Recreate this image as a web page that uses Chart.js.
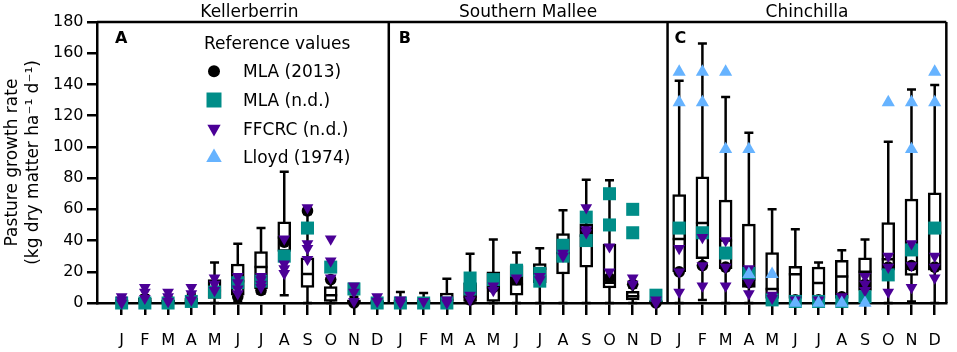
<!DOCTYPE html>
<html>
<head>
<meta charset="utf-8">
<script src="https://cdn.jsdelivr.net/npm/chart.js@4.4.1/dist/chart.umd.min.js"></script>
<style>
  html, body { margin: 0; padding: 0; background: #fff; }
  #growth { display: block; }
</style>
</head>
<body>
<canvas id="growth" width="957" height="352"></canvas>
<script>
const months = ['J', 'F', 'M', 'A', 'M', 'J', 'J', 'A', 'S', 'O', 'N', 'D'];
const sites = ['Kellerberrin', 'Southern Mallee', 'Chinchilla'];
const panelTags = ['A', 'B', 'C'];
const yTicks = [0, 20, 40, 60, 80, 100, 120, 140, 160, 180];

// box plot stats, one value per month: Kellerberrin, Southern Mallee, Chinchilla
const boxMin = [
  0, 0, 0, 0, 0, 1, 6, 5, 0, 0, 0, 0,
  0, 0, 0, 0, 0, 0, 0, 0, 0, 0, 0, 0,
  0, 2, 0, 0, 0, 0, 0, 0, 0, 0, 1, 0
];
const boxQ1 = [
  0, 0, 0, 0, 3, 5, 9, 33, 10, 1, 0, 0,
  0, 0, 0.5, 1, 1, 5, 13, 18.6, 23, 9.6, 2, 0,
  20, 28.4, 22, 10, 3, 3, 3, 3, 8, 21, 17.7, 21
];
const boxMedian = [
  1, 1, 1, 1.5, 8, 14, 23, 42, 18.5, 5, 1, 0.5,
  1, 1, 2, 4, 10, 12, 22, 32, 43, 13, 4.3, 0.5,
  41, 51.3, 40, 15, 9, 18.4, 12.8, 17, 20, 28, 22, 45
];
const boxQ3 = [
  2, 3, 2, 3, 15, 25, 33, 52, 29, 10.5, 2, 1.5,
  2, 2, 6.4, 13, 20, 24, 25.2, 44.5, 50.7, 37.8, 7.5, 1.5,
  69.5, 80.8, 65.9, 50.5, 32.3, 23.5, 23, 27.4, 29, 51.5, 66.5, 70.6
];
const boxMax = [
  3, 5, 4, 6, 26, 38, 48, 84, 57, 17, 4, 3,
  7, 6.4, 15.6, 31.6, 40.6, 32.3, 35, 59.4, 79, 78.7, 10, 3,
  142.4, 166.3, 132, 109, 60, 47.3, 25.9, 33.8, 40.6, 103.3, 136.8, 139.6
];

// reference values, a list per month (same order as above)
const mla2013 = [
  [0], [1], [1], [2], [8], [4], [8], [39], [59], [15], [0], [0],
  [0], [0], [0], [2], [10], [15], [17], [30], [46], [16], [12], [0],
  [20], [24], [23], [13], [3], [2], [2], [4], [12], [23], [24], [23]
];
const mlaNd = [
  [0], [0], [0], [1], [7], [13], [14], [30], [48], [23], [9], [0],
  [0], [0], [0], [16, 9], [15], [21], [19, 14], [37, 30], [55, 40], [70, 50], [60, 45], [5],
  [48], [45], [32], [19], [2], [1], [1], [1], [4], [18], [34], [48]
];
const ffcrc = [
  [4, 2, 0], [10, 7, 3], [7, 4, 1], [10, 6, 2], [16, 12, 8], [17, 13, 9, 6], [17, 15, 12, 10], [41, 25, 22, 19], [61, 38, 35, 28], [41, 27, 16], [11, 7, 1], [4, 1],
  [2, 0], [1], [2, 0], [5, 2], [11, 8], [16], [17, 15], [32, 30], [61, 47, 45], [36, 20], [16, 12], [2, 0],
  [35, 20, 7], [42, 24, 11], [40, 23, 11], [22, 13, 6], [5, 3], [2], [2], [4], [17, 12, 8], [30, 23, 7], [38, 24, 10], [30, 23, 16]
];
const lloyd = [
  [], [], [], [], [], [], [], [], [], [], [], [],
  [], [], [], [], [], [], [], [], [], [], [], [],
  [148, 128.5], [148, 128.5], [148, 98.5], [98.5, 18.5], [18.5], [0], [0], [0], [0], [128.5], [128.5, 98.5], [148, 128.5]
];

const monthIdx = boxMin.map((_, i) => i);

function toPoints(lists) {
  const pts = [];
  lists.forEach((vals, i) => vals.forEach(v => pts.push({ x: i, y: v })));
  return pts;
}

// scatter series, legendRadius is only used by the legend drawn below
const refSeries = [
  { label: 'MLA (2013)', values: mla2013, color: '#000000', style: 'circle', radius: 5.8, rotation: 0, legendRadius: 6, order: 4 },
  { label: 'MLA (n.d.)', values: mlaNd, color: '#008d88', style: 'rect', radius: 9.2, rotation: 0, legendRadius: 10.6, order: 3 },
  { label: 'FFCRC (n.d.)', values: ffcrc, color: '#4b0096', style: 'triangle', radius: 6.8, rotation: 180, legendRadius: 7.7, order: 2 },
  { label: 'Lloyd (1974)', values: lloyd, color: '#66b3ff', style: 'triangle', radius: 7.6, rotation: 0, legendRadius: 9, order: 1 }
];

function drawMarker(ctx, s, r, x, y) {
  ctx.fillStyle = s.color;
  Chart.helpers.drawPoint(ctx, { pointStyle: s.style, rotation: s.rotation, radius: r, borderWidth: 0 }, x, y);
}

const boxPlot = {
  id: 'boxPlot',
  beforeDatasetsDraw(chart) {
    const { ctx, chartArea } = chart;
    const x = chart.scales.x, y = chart.scales.y;
    const top = y.getPixelForValue(180), bottom = y.getPixelForValue(0);
    ctx.save();
    ctx.strokeStyle = '#000';
    ctx.lineWidth = 2.5;
    // panel frames
    ctx.beginPath();
    ctx.moveTo(chartArea.left, top);
    ctx.lineTo(x.getPixelForValue(35.5), top);
    [11.5, 23.5, 35.5].forEach(v => {
      const px = x.getPixelForValue(v);
      ctx.moveTo(px, top);
      ctx.lineTo(px, bottom);
    });
    ctx.stroke();
    // whiskers
    ctx.beginPath();
    monthIdx.forEach(i => {
      const px = x.getPixelForValue(i);
      const lo = y.getPixelForValue(boxMin[i]);
      const hi = y.getPixelForValue(boxMax[i]);
      ctx.moveTo(px, lo); ctx.lineTo(px, hi);
      ctx.moveTo(px - 4.5, hi); ctx.lineTo(px + 4.5, hi);
      ctx.moveTo(px - 4.5, lo); ctx.lineTo(px + 4.5, lo);
    });
    ctx.stroke();
    ctx.restore();
  },
  afterDatasetDraw(chart, args) {
    if (args.meta.type !== 'bar') return;
    const { ctx } = chart;
    const x = chart.scales.x, y = chart.scales.y;
    ctx.save();
    ctx.strokeStyle = '#000';
    ctx.lineWidth = 2.5;
    ctx.beginPath();
    monthIdx.forEach(i => {
      const px = x.getPixelForValue(i);
      const py = y.getPixelForValue(boxMedian[i]);
      ctx.moveTo(px - 6.5, py);
      ctx.lineTo(px + 6.5, py);
    });
    ctx.stroke();
    ctx.restore();
  },
  afterDraw(chart) {
    const { ctx, chartArea } = chart;
    const x = chart.scales.x;
    ctx.save();
    ctx.fillStyle = '#000';

    // site names above panels
    ctx.font = '17px "DejaVu Sans"';
    ctx.textAlign = 'center';
    ctx.textBaseline = 'alphabetic';
    sites.forEach((name, s) => ctx.fillText(name, x.getPixelForValue(s * 12 + 5.5), 17));

    // panel letters
    ctx.font = 'bold 16px "DejaVu Sans"';
    ctx.textAlign = 'left';
    const panelLeft = [chartArea.left + 18, x.getPixelForValue(11.5) + 10, x.getPixelForValue(23.5) + 7];
    panelTags.forEach((t, s) => ctx.fillText(t, panelLeft[s], 42.5));

    // legend inside panel A
    ctx.font = '17px "DejaVu Sans"';
    ctx.fillText('Reference values', 204, 49);
    refSeries.forEach((s, k) => {
      const base = 77.3 + k * 28.7;
      drawMarker(ctx, s, s.legendRadius, 214, base - 6);
      ctx.fillStyle = '#000';
      ctx.fillText(s.label, 243, base);
    });
    ctx.restore();
  }
};

const datasets = [
  {
    type: 'bar',
    label: 'Modelled',
    data: monthIdx.map(i => ({ x: i, y: [boxQ1[i], boxQ3[i]] })),
    backgroundColor: '#ffffff',
    borderColor: '#000000',
    borderWidth: 2.5,
    borderSkipped: false,
    barThickness: 13,
    order: 10
  }
].concat(refSeries.map(s => ({
  type: 'scatter',
  label: s.label,
  data: toPoints(s.values),
  pointStyle: s.style,
  pointRadius: s.radius,
  pointRotation: s.rotation,
  pointBackgroundColor: s.color,
  backgroundColor: s.color,
  pointBorderWidth: 0,
  clip: false,
  order: s.order
})));

Chart.defaults.font.family = '"DejaVu Sans", sans-serif';
Chart.defaults.color = '#000';

new Chart(document.getElementById('growth'), {
  type: 'scatter',
  data: { datasets: datasets },
  options: {
    responsive: false,
    animation: false,
    events: [],
    layout: { padding: { top: 22, right: 7, left: 0, bottom: 0 } },
    scales: {
      x: {
        type: 'linear',
        offset: false,
        min: -1.06,
        max: 35.5,
        afterBuildTicks: scale => { scale.ticks = monthIdx.map(v => ({ value: v })); },
        afterFit: scale => { scale.height = 49; },
        ticks: {
          autoSkip: false,
          maxRotation: 0,
          padding: 16,
          font: { size: 16 },
          color: '#000',
          callback: v => months[((v % 12) + 12) % 12]
        },
        grid: { offset: false, drawOnChartArea: false, color: '#000', lineWidth: 2.5, tickLength: 12 },
        border: { color: '#000', width: 2.5 }
      },
      y: {
        type: 'linear',
        min: 0,
        max: 180,
        afterBuildTicks: scale => { scale.ticks = yTicks.map(v => ({ value: v })); },
        afterFit: scale => { scale.width = 97; },
        ticks: { padding: 3.5, font: { size: 16 }, color: '#000' },
        grid: { drawOnChartArea: false, color: '#000', lineWidth: 2.5, tickLength: 10 },
        border: { color: '#000', width: 2.5 },
        title: {
          display: true,
          text: ['Pasture growth rate', '(kg dry matter ha\u207B\u00B9 d\u207B\u00B9)'],
          font: { size: 17, lineHeight: 1.25 },
          color: '#000',
          padding: { top: 2, bottom: 0 }
        }
      }
    },
    plugins: {
      legend: { display: false },
      tooltip: { enabled: false }
    }
  },
  plugins: [boxPlot]
});
</script>
</body>
</html>
